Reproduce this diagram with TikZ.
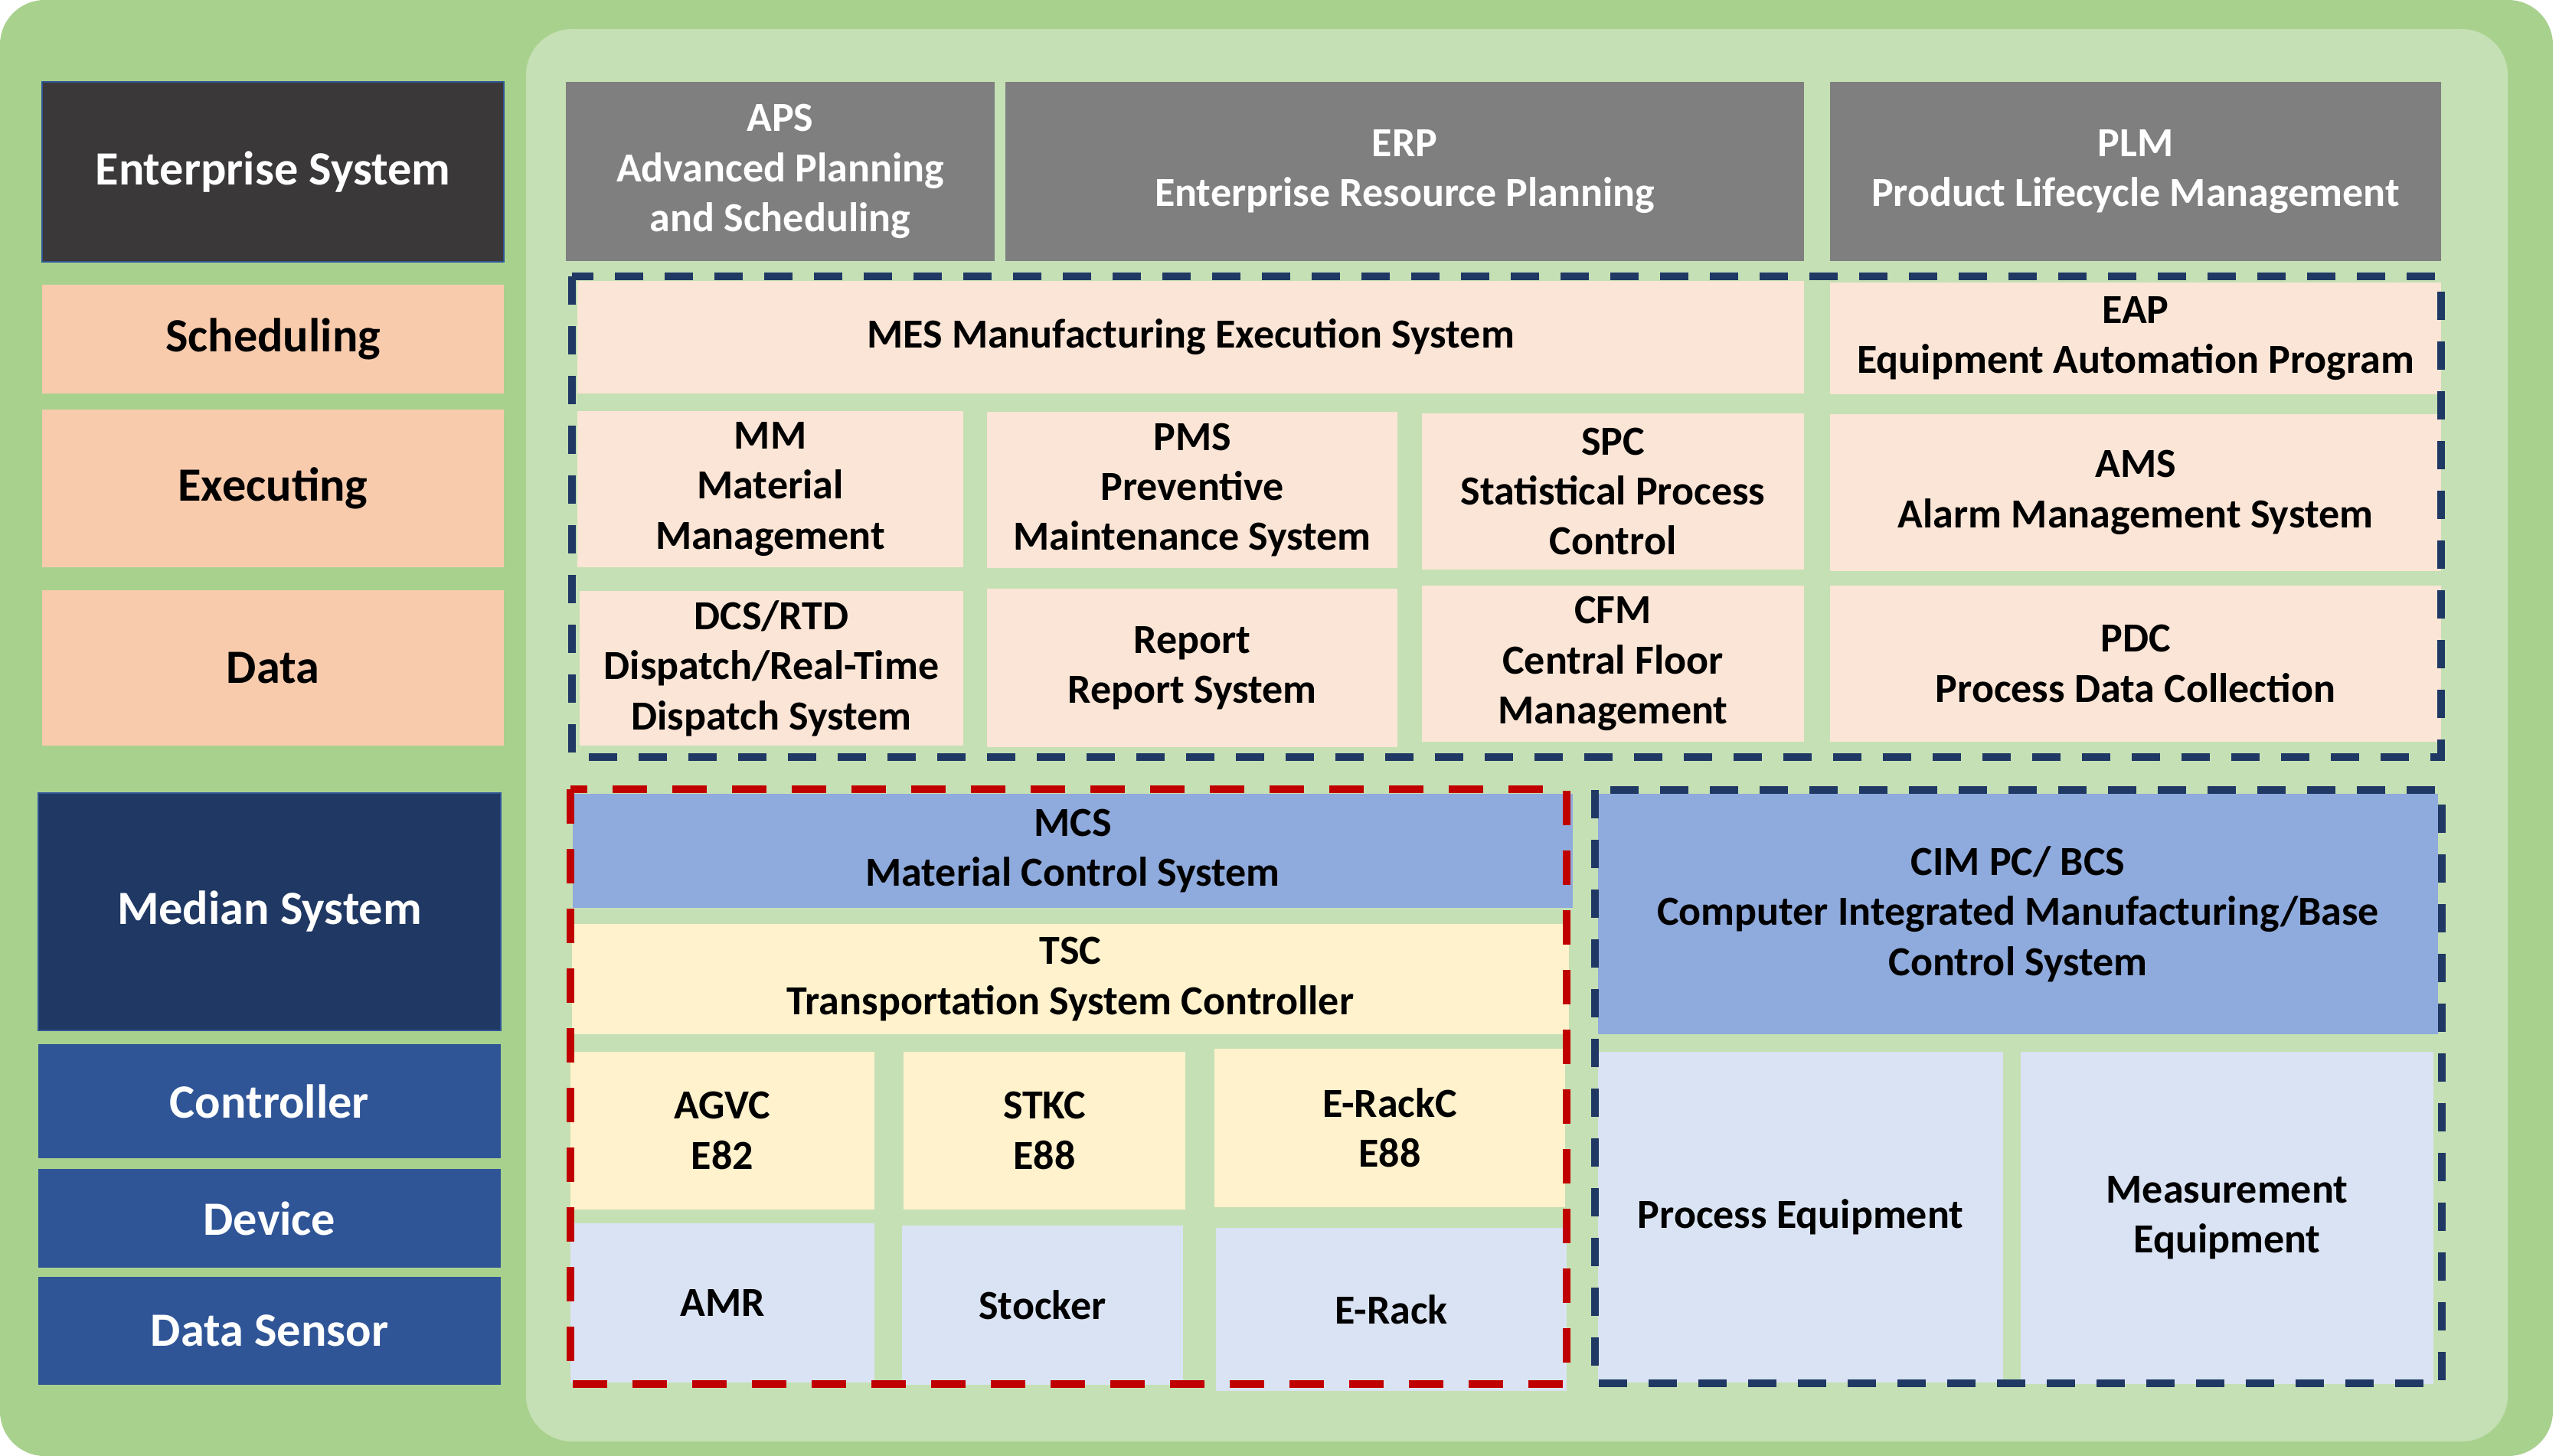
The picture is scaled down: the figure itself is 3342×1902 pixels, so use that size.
\documentclass[tikz,border=0pt]{standalone}
\usepackage{fontspec}
\setmainfont{Carlito}
\definecolor{outerg}{HTML}{A9D18E}
\definecolor{innerg}{HTML}{C5E0B4}
\definecolor{dgray}{HTML}{3A3838}
\definecolor{mgray}{HTML}{7F7F7F}
\definecolor{peach}{HTML}{F8CBAD}
\definecolor{lpeach}{HTML}{FBE5D6}
\definecolor{navy}{HTML}{203864}
\definecolor{mblue}{HTML}{2F5597}
\definecolor{lblue}{HTML}{8FAADC}
\definecolor{pyellow}{HTML}{FFF2CC}
\definecolor{pblue}{HTML}{DAE3F3}
\definecolor{dashnavy}{HTML}{1F3864}
\definecolor{dred}{HTML}{C00000}
\newcommand\bx[7]{%
  \pgfmathsetmacro\bw{(#4-#2)*0.3}%
  \pgfmathsetmacro\bh{(#5-#3)*0.3}%
  \node[#6, minimum width=\bw pt, minimum height=\bh pt] (#1) at ({(#2+#4)/2},{(#3+#5)/2}) {#7};}
\tikzset{
  basebox/.style={rectangle, inner sep=0pt, outer sep=0pt, align=center, font=\bfseries\fontsize{16.2pt}{19.6pt}\selectfont},
  leftbox/.style={basebox, font=\bfseries\fontsize{18.7pt}{21pt}\selectfont},
  entbox/.style={leftbox, fill=dgray, draw=mblue, line width=0.7pt, text=white},
  schbox/.style={leftbox, fill=peach, text=black},
  medbox/.style={leftbox, fill=navy, draw=mblue, line width=0.7pt, text=white},
  ctlbox/.style={leftbox, fill=mblue, text=white},
  graybox/.style={basebox, fill=mgray, text=white},
  mesbox/.style={basebox, fill=lpeach, text=black},
  mcsbox/.style={basebox, fill=lblue, text=black},
  tscbox/.style={basebox, fill=pyellow, text=black},
  devbox/.style={basebox, fill=pblue, text=black},
  navyframe/.style={draw=dashnavy, line width=2.8pt, dash pattern=on 11.1pt off 8.4pt},
  redframe/.style={draw=dred, line width=3.2pt, dash pattern=on 13.5pt off 9.9pt}
}
\begin{document}
\begin{tikzpicture}[x=0.3pt,y=-0.3pt]
\fill[white] (0,0) rectangle (3342,1902);
\useasboundingbox (0,0) rectangle (3342,1902);
\fill[outerg, rounded corners=17.5pt] (0,0) rectangle (3334,1902);
\fill[innerg, rounded corners=18pt] (687,38) rectangle (3275,1883);
% left column
\bx{ent}{55}{107}{658}{342}{entbox}{Enterprise System}
\bx{sch}{55}{372}{658}{514}{schbox}{Scheduling}
\bx{exe}{55}{535}{658}{741}{schbox}{Executing}
\bx{dat}{55}{771}{658}{974}{schbox}{Data}
\bx{med}{50}{1036}{654}{1346}{medbox}{Median System}
\bx{ctl}{50}{1364}{654}{1513}{ctlbox}{Controller}
\bx{dev}{50}{1527}{654}{1656}{ctlbox}{Device}
\bx{sen}{50}{1668}{654}{1809}{ctlbox}{Data Sensor}
% top gray row
\bx{aps}{739}{107}{1299}{341}{graybox}{APS\\Advanced Planning\\and Scheduling}
\bx{erp}{1313}{107}{2356}{341}{graybox}{ERP\\Enterprise Resource Planning}
\bx{plm}{2390}{107}{3188}{341}{graybox}{PLM\\Product Lifecycle Management}
% MES block
\bx{mes}{754}{367}{2356}{514}{mesbox}{MES Manufacturing Execution System}
\bx{eap}{2390}{369}{3188}{515}{mesbox}{EAP\\Equipment Automation Program}
\bx{mm}{754}{537}{1258}{741}{mesbox}{MM\\Material\\Management}
\bx{pms}{1289}{538}{1825}{742}{mesbox}{PMS\\Preventive\\Maintenance System}
\bx{spc}{1857}{540}{2356}{744}{mesbox}{SPC\\Statistical Process\\Control}
\bx{ams}{2390}{541}{3188}{746}{mesbox}{AMS\\Alarm Management System}
\bx{dcs}{757}{772}{1258}{974}{mesbox}{DCS/RTD\\Dispatch/Real-Time\\Dispatch System}
\bx{rep}{1289}{769}{1825}{976}{mesbox}{Report\\Report System}
\bx{cfm}{1857}{765}{2356}{969}{mesbox}{CFM\\Central Floor\\Management}
\bx{pdc}{2390}{765}{3188}{969}{mesbox}{PDC\\Process Data Collection}
\draw[navyframe] (747,361) rectangle (3188,989);
% MCS block
\bx{mcs}{748}{1037}{2054}{1186}{mcsbox}{MCS\\Material Control System}
\bx{tsc}{747}{1207}{2049}{1351}{tscbox}{TSC\\Transportation System Controller}
\bx{agvc}{745}{1374}{1142}{1580}{tscbox}{AGVC\\E82}
\bx{stkc}{1180}{1374}{1548}{1580}{tscbox}{STKC\\E88}
\bx{erackc}{1586}{1370}{2044}{1577}{tscbox}{E-RackC\\E88}
\bx{amr}{745}{1598}{1142}{1806}{devbox}{AMR}
\bx{stk}{1178}{1601}{1545}{1809}{devbox}{Stocker}
\bx{erack}{1588}{1604}{2046}{1817}{devbox}{E-Rack}
\draw[redframe] (745,1031) rectangle (2046,1808);
% CIM block
\bx{cim}{2087}{1037}{3184}{1351}{mcsbox}{CIM PC/ BCS\\Computer Integrated Manufacturing/Base\\Control System}
\bx{peq}{2087}{1374}{2616}{1806}{devbox}{Process Equipment}
\bx{meq}{2639}{1374}{3178}{1808}{devbox}{Measurement\\Equipment}
\draw[navyframe] (2083,1032) rectangle (3189,1807);
\end{tikzpicture}
\end{document}
